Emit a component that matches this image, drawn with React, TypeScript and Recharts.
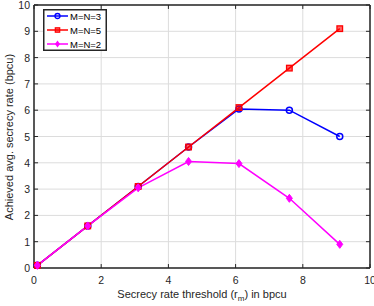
import React from "react";
import {
  LineChart,
  Line,
  XAxis,
  YAxis,
  CartesianGrid,
  ReferenceLine,
} from "recharts";

const thresholds = [0.1, 1.6, 3.1, 4.6, 6.1, 7.6, 9.1];
const rateN3 = [0.1, 1.6, 3.1, 4.6, 6.05, 6.0, 5.0];
const rateN5 = [0.1, 1.6, 3.1, 4.6, 6.1, 7.6, 9.1];
const rateN2 = [0.1, 1.6, 3.05, 4.05, 3.97, 2.65, 0.9];
const xTicks = [0, 2, 4, 6, 8, 10];
const yTicks = [0, 1, 2, 3, 4, 5, 6, 7, 8, 9, 10];
const seriesNames = ["M=N=3", "M=N=5", "M=N=2"];
const seriesColors = ["#0000ff", "#ff0000", "#ff00ff"];

const data = thresholds.map((x, i) => ({
  x,
  n3: rateN3[i],
  n5: rateN5[i],
  n2: rateN2[i],
}));

const AXIS = "#262626";
const GRID = "#dcdcdc";
const FONT = "'Liberation Sans', Arial, Helvetica, sans-serif";
const MARGIN = { top: 5, right: 4, bottom: 8, left: 8 };
const W = 374;
const H = 306;
const X_MIN = 0;
const X_MAX = 10;
const Y_MIN = 0;
const Y_MAX = 10;
const TICK_LEN_X = 0.12; // data units, ~4px
const TICK_LEN_Y = 0.15; // data units, ~4px

const BottomTick = (props: any) => {
  const { x, y, payload } = props;
  return (
    <text x={x} y={y + 16} textAnchor="middle" fontSize={10.5} fill={AXIS} fontFamily={FONT}>
      {payload.value}
    </text>
  );
};
const LeftTick = (props: any) => {
  const { x, y, payload } = props;
  return (
    <text x={x - 4} y={y + 4} textAnchor="end" fontSize={10.5} fill={AXIS} fontFamily={FONT}>
      {payload.value}
    </text>
  );
};

const CircleDot = (props: any) => {
  const { cx, cy, index } = props;
  if (cx == null || cy == null) return <g key={index} />;
  return <circle key={index} cx={cx} cy={cy} r={3} fill="none" stroke="#0000ff" strokeWidth={1.5} />;
};
const SquareDot = (props: any) => {
  const { cx, cy, index } = props;
  if (cx == null || cy == null) return <g key={index} />;
  return <rect key={index} x={cx - 2.8} y={cy - 2.8} width={5.6} height={5.6} fill="#ff0000" fillOpacity={0.6} stroke="#ff0000" strokeWidth={1.3} />;
};
const DiamondDot = (props: any) => {
  const { cx, cy, index } = props;
  if (cx == null || cy == null) return <g key={index} />;
  return (
    <path
      key={index}
      d={`M${cx},${cy - 4} L${cx + 3},${cy} L${cx},${cy + 4} L${cx - 3},${cy} Z`}
      fill="#ff00ff"
      stroke="#ff00ff"
      strokeWidth={1}
    />
  );
};

const LegendBox = () => (
  <svg width={64} height={42} style={{ display: "block" }}>
    <rect x={0.75} y={0.75} width={62.5} height={40.5} fill="#ffffff" stroke={AXIS} strokeWidth={1.5} />
    {seriesNames.map((name, i) => {
      const y = 7 + i * 14;
      const c = seriesColors[i];
      return (
        <g key={name}>
          <line x1={4} y1={y} x2={25} y2={y} stroke={c} strokeWidth={1.5} />
          {i === 0 && <circle cx={14.5} cy={y} r={2.5} fill="none" stroke={c} strokeWidth={1.3} />}
          {i === 1 && <rect x={12.3} y={y - 2.2} width={4.4} height={4.4} fill={c} fillOpacity={0.6} stroke={c} strokeWidth={1.2} />}
          {i === 2 && <path d={`M14.5,${y - 3.5} L17,${y} L14.5,${y + 3.5} L12,${y} Z`} fill={c} />}
          <text x={27} y={y + 3.5} fontSize={9.5} fill="#000" fontFamily={FONT}>
            {name}
          </text>
        </g>
      );
    })}
  </svg>
);

export default function App() {
  return (
    <div style={{ position: "absolute", left: 0, top: 0, width: W, height: H, background: "#fff" }}>
      <LineChart width={W} height={H} data={data} margin={MARGIN}>
        <CartesianGrid stroke={GRID} strokeWidth={1} />
        <ReferenceLine x={X_MAX} stroke={AXIS} strokeWidth={1.5} ifOverflow="visible" />
        <ReferenceLine y={Y_MAX} stroke={AXIS} strokeWidth={1.5} ifOverflow="visible" />
        {xTicks.map((t) => (
          <ReferenceLine
            key={`tb${t}`}
            segment={[{ x: t, y: Y_MIN }, { x: t, y: Y_MIN + TICK_LEN_Y }]}
            stroke={AXIS}
            strokeWidth={1}
            ifOverflow="visible"
          />
        ))}
        {xTicks.map((t) => (
          <ReferenceLine
            key={`tt${t}`}
            segment={[{ x: t, y: Y_MAX }, { x: t, y: Y_MAX - TICK_LEN_Y }]}
            stroke={AXIS}
            strokeWidth={1}
            ifOverflow="visible"
          />
        ))}
        {yTicks.map((t) => (
          <ReferenceLine
            key={`tl${t}`}
            segment={[{ x: X_MIN, y: t }, { x: X_MIN + TICK_LEN_X, y: t }]}
            stroke={AXIS}
            strokeWidth={1}
            ifOverflow="visible"
          />
        ))}
        {yTicks.map((t) => (
          <ReferenceLine
            key={`tr${t}`}
            segment={[{ x: X_MAX, y: t }, { x: X_MAX - TICK_LEN_X, y: t }]}
            stroke={AXIS}
            strokeWidth={1}
            ifOverflow="visible"
          />
        ))}
        <XAxis
          dataKey="x"
          type="number"
          domain={[X_MIN, X_MAX]}
          ticks={xTicks}
          interval={0}
          tick={<BottomTick />}
          tickLine={false}
          tickSize={0}
          tickMargin={0}
          height={30}
          axisLine={{ stroke: AXIS, strokeWidth: 1.5 }}
          label={{
            content: () => (
              <text x={202} y={298} textAnchor="middle" fontSize={11} fill={AXIS} fontFamily={FONT}>
                Secrecy rate threshold (r
                <tspan fontSize={8} dy={3}>m</tspan>
                <tspan dy={-3}>) in bpcu</tspan>
              </text>
            ),
          }}
        />
        <YAxis
          type="number"
          domain={[Y_MIN, Y_MAX]}
          ticks={yTicks}
          interval={0}
          tick={<LeftTick />}
          tickLine={false}
          tickSize={0}
          tickMargin={0}
          width={26}
          axisLine={{ stroke: AXIS, strokeWidth: 1.5 }}
          label={{
            content: () => (
              <text
                x={13}
                y={137}
                transform="rotate(-90 13 137)"
                textAnchor="middle"
                fontSize={11}
                fill={AXIS}
                fontFamily={FONT}
              >
                Achieved avg. secrecy rate (bpcu)
              </text>
            ),
          }}
        />
        <Line
          dataKey="n3"
          name={seriesNames[0]}
          stroke={seriesColors[0]}
          strokeWidth={1.5}
          dot={<CircleDot />}
          isAnimationActive={false}
        />
        <Line
          dataKey="n5"
          name={seriesNames[1]}
          stroke={seriesColors[1]}
          strokeWidth={1.5}
          dot={<SquareDot />}
          isAnimationActive={false}
        />
        <Line
          dataKey="n2"
          name={seriesNames[2]}
          stroke={seriesColors[2]}
          strokeWidth={1.5}
          dot={<DiamondDot />}
          isAnimationActive={false}
        />
      </LineChart>
      <div style={{ position: "absolute", left: 43, top: 9 }}>
        <LegendBox />
      </div>
    </div>
  );
}
